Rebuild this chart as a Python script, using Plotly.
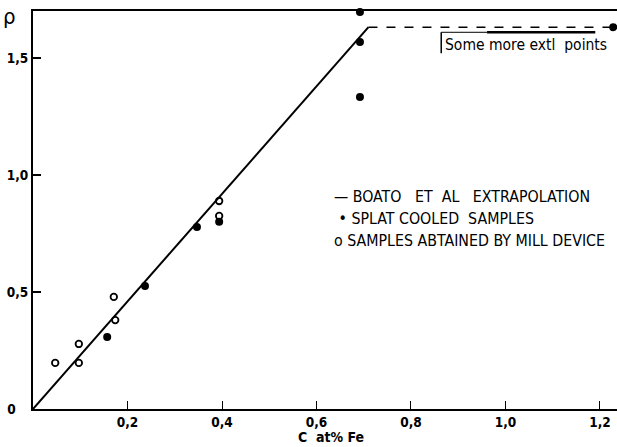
import plotly.graph_objects as go

# --- data ---
boato_x = [0.0, 0.71]
boato_y = [0.0, 1.632]
extl_x = [0.71, 1.228]
extl_y = [1.632, 1.632]

splat_x = [0.157, 0.237, 0.347, 0.394, 0.692, 0.692, 0.692, 1.228]
splat_y = [0.308, 0.526, 0.778, 0.800, 1.333, 1.568, 1.697, 1.632]

mill_x = [0.047, 0.097, 0.097, 0.171, 0.174, 0.394, 0.394]
mill_y = [0.197, 0.197, 0.278, 0.479, 0.380, 0.825, 0.889]

x_ticks = [0.2, 0.4, 0.6, 0.8, 1.0, 1.2]
x_labels = ["0,2", "0,4", "0,6", "0,8", "1,0", "1,2"]
y_ticks = [0.0, 0.5, 1.0, 1.5]
y_labels = ["0&nbsp;&nbsp;&nbsp;", "0,5", "1,0", "1,5"]

legend_lines = ["—&nbsp;BOATO&nbsp;&nbsp; ET&nbsp; AL&nbsp;&nbsp; EXTRAPOLATION",
                "&nbsp;• SPLAT COOLED&nbsp; SAMPLES",
                "o SAMPLES ABTAINED BY MILL DEVICE"]

FONT = "DejaVu Sans Condensed, Liberation Sans Narrow, DejaVu Sans, sans-serif"

fig = go.Figure()
fig.add_trace(go.Scatter(x=boato_x, y=boato_y, mode="lines",
                         line=dict(color="black", width=2),
                         name="BOATO ET AL EXTRAPOLATION", showlegend=False))
fig.add_trace(go.Scatter(x=extl_x, y=extl_y, mode="lines",
                         line=dict(color="black", width=1.5, dash="dash"),
                         showlegend=False))
fig.add_trace(go.Scatter(x=splat_x, y=splat_y, mode="markers",
                         marker=dict(color="black", size=8, symbol="circle"),
                         name="SPLAT COOLED SAMPLES", showlegend=False,
                         cliponaxis=False))
fig.add_trace(go.Scatter(x=mill_x, y=mill_y, mode="markers",
                         marker=dict(color="black", size=6.5, symbol="circle-open",
                                     line=dict(color="black", width=1.8)),
                         name="SAMPLES ABTAINED BY MILL DEVICE", showlegend=False,
                         cliponaxis=False))

# "Some more extl points" bracket
fig.add_shape(type="line", x0=0.864, x1=0.864, y0=1.61, y1=1.52,
              line=dict(color="black", width=1.5))
fig.add_shape(type="line", x0=0.864, x1=0.961, y0=1.61, y1=1.61,
              line=dict(color="black", width=1))
fig.add_shape(type="line", x0=0.961, x1=1.19, y0=1.61, y1=1.61,
              line=dict(color="black", width=2.5))
fig.add_annotation(x=0.868, y=1.555, text="Some more extl&nbsp; points", showarrow=False,
                   xanchor="left", yanchor="middle",
                   font=dict(family=FONT, size=15.5, color="black"))

for i, t in enumerate(legend_lines):
    fig.add_annotation(x=0.633, y=0.910 - i * 0.094, text=t, showarrow=False,
                       xanchor="left", yanchor="middle",
                       font=dict(family=FONT, size=15.8, color="black"))

fig.add_annotation(xref="paper", yref="paper", x=-0.04, y=0.985, text="ρ",
                   showarrow=False, xanchor="center", yanchor="middle",
                   font=dict(family=FONT, size=22, color="black"))
fig.add_annotation(xref="paper", yref="paper", x=0.51, y=0, yshift=-28,
                   text="<b>C&nbsp; at% Fe</b>", showarrow=False,
                   xanchor="center", yanchor="middle",
                   font=dict(family=FONT, size=14, color="black"))

fig.update_layout(
    width=617, height=447,
    margin=dict(l=33, r=0, t=11, b=38),
    paper_bgcolor="white", plot_bgcolor="white",
    font=dict(family=FONT, color="black"),
    showlegend=False,
    xaxis=dict(range=[0, 1.236], tickvals=x_ticks,
               ticktext=["<b>%s</b>" % s for s in x_labels],
               ticks="inside", ticklen=8, tickwidth=1.2, tickcolor="black",
               showline=True, linecolor="black", linewidth=2, mirror=True,
               showgrid=False, zeroline=False,
               tickfont=dict(family=FONT, size=13.5, color="black")),
    yaxis=dict(range=[0, 1.701], tickvals=y_ticks,
               ticktext=["<b>%s</b>" % s for s in y_labels],
               ticks="inside", ticklen=8, tickwidth=1.5, tickcolor="black",
               showline=True, linecolor="black", linewidth=2,
               showgrid=False, zeroline=False,
               tickfont=dict(family=FONT, size=13.5, color="black")),
)

fig.write_html("out.html", config={"displayModeBar": False},
               post_script="document.body.style.margin='0';")
